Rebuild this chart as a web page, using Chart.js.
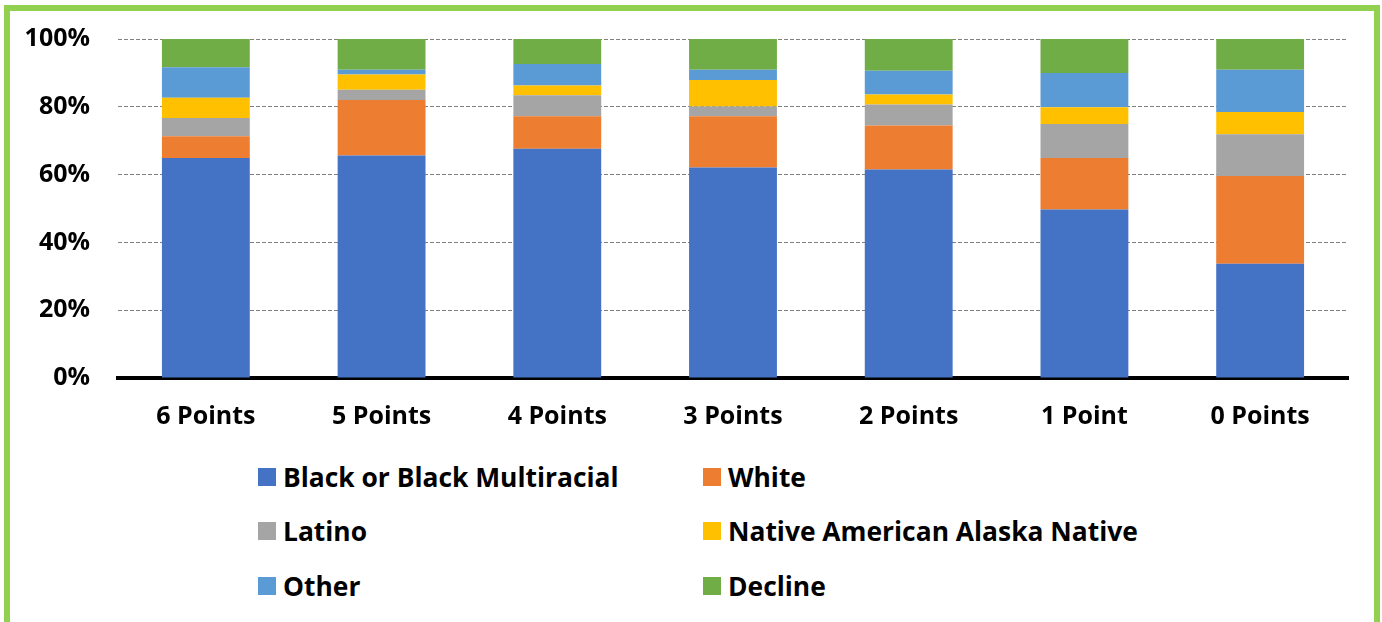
<!DOCTYPE html>
<html>
<head>
<meta charset="utf-8">
<script src="https://cdn.jsdelivr.net/npm/chart.js@4.4.1/dist/chart.umd.min.js"></script>
<style>
  html, body { margin: 0; padding: 0; background: #fff; }
  body { width: 1382px; height: 622px; position: relative; overflow: hidden; font-family: "Open Sans", Lato, sans-serif; }
  #frame {
    position: absolute; left: 4px; top: 5px; width: 1364px; height: 640px;
    border: 6px solid #92D050; border-bottom: none;
  }
  #chart-wrap { position: absolute; left: 0; top: 0; width: 1382px; height: 450px; }
  #legend { position: absolute; left: 258px; top: 460px; width: 900px; }
  .lg-item { position: absolute; display: flex; align-items: center; height: 34px; line-height: 34px; font-weight: bold; font-size: 26.4px; color: #000; white-space: nowrap; }
  .lg-box { width: 18px; height: 18px; margin-right: 7px; flex: none; }
</style>
</head>
<body>
<div id="frame"></div>
<div id="chart-wrap"><canvas id="race-chart"></canvas></div>
<div id="legend"></div>
<script>
// categories (score groups)
const categories = ["6 Points", "5 Points", "4 Points", "3 Points", "2 Points", "1 Point", "0 Points"];

// share of each group, in percent
const black    = [64.9, 65.6, 67.6, 62.1, 61.5, 49.7, 33.7];
const white    = [6.4, 16.4, 9.6, 15.1, 13.0, 15.2, 25.9];
const latino   = [5.4, 3.0, 6.2, 2.9, 6.2, 10.0, 12.3];
const native   = [6.0, 4.5, 2.9, 7.8, 2.9, 5.0, 6.6];
const other    = [9.0, 1.4, 6.3, 3.0, 7.0, 10.1, 12.4];
const declined = [8.3, 9.1, 7.4, 9.1, 9.4, 10.0, 9.1];

const seriesNames = ["Black or Black Multiracial", "White", "Latino", "Native American Alaska Native", "Other", "Decline"];
const seriesData = [black, white, latino, native, other, declined];
const seriesColors = ["#4472C4", "#ED7D31", "#A5A5A5", "#FFC000", "#5B9BD5", "#70AD47"];

document.addEventListener("DOMContentLoaded", () => {
  drawChart();
  drawLegend();
});

function drawChart() {
  const ctx = document.getElementById("race-chart").getContext("2d");
  const tickFont = { family: "Open Sans", size: 25, weight: "bold" };

  new Chart(ctx, {
    type: "bar",
    data: {
      labels: categories,
      datasets: seriesData.map((values, i) => ({
        label: seriesNames[i],
        data: values,
        backgroundColor: seriesColors[i],
        borderWidth: 0,
        barPercentage: 0.5,
        categoryPercentage: 1.0
      }))
    },
    options: {
      responsive: true,
      maintainAspectRatio: false,
      animation: false,
      layout: { padding: { top: 39, right: 34, left: 0, bottom: 0 } },
      plugins: {
        legend: { display: false },
        tooltip: { enabled: false }
      },
      scales: {
        x: {
          stacked: true,
          grid: { display: false, drawTicks: false },
          border: { display: true, color: "#000", width: 4 },
          ticks: { color: "#000", font: tickFont, padding: 24 },
          afterFit: (axis) => { axis.height = 72; }
        },
        y: {
          stacked: true,
          min: 0,
          max: 100,
          grid: {
            drawTicks: true,
            tickLength: 12,
            tickColor: "rgba(0,0,0,0)",
            color: (c) => (c.tick && c.tick.value === 0 ? "rgba(0,0,0,0)" : "#808080"),
            lineWidth: 1
          },
          border: { display: false, dash: [4, 2] },
          ticks: {
            stepSize: 20,
            color: "#000",
            font: tickFont,
            padding: 16,
            callback: (v) => v + "%"
          },
          afterFit: (axis) => { axis.width = 118; }
        }
      }
    }
  });
}

function drawLegend() {
  const box = document.getElementById("legend");
  const colX = [0, 445];
  const rowY = [0, 54, 109];
  seriesNames.forEach((name, i) => {
    const item = document.createElement("div");
    item.className = "lg-item";
    item.style.left = colX[i % 2] + "px";
    item.style.top = rowY[Math.floor(i / 2)] + "px";
    item.innerHTML = `<span class="lg-box" style="background:${seriesColors[i]}"></span><span>${name}</span>`;
    box.appendChild(item);
  });
}
</script>
</body>
</html>
